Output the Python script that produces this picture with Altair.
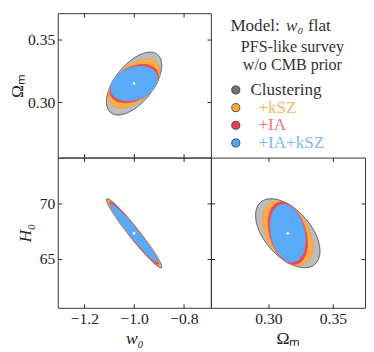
import numpy as np
import pandas as pd
import altair as alt

# ---------------- data ----------------
series = ["Clustering", "+kSZ", "+IA", "+IA+kSZ"]
fill_colors = ["#bdbdbd", "#ffab47", "#f4454f", "#5aabf7"]
edge_colors = ["#3c3c3c", "#ee9f40", "#f4454f", "#5aabf7"]
marker_colors = ["#727272", "#f7a744", "#f03f4a", "#4da4f4"]
text_colors = ["#333333", "#fbb565", "#f7737c", "#7bb9f6"]

fid_w0, fid_Om, fid_H0 = -1.0, 0.315, 67.3
# half-extent of each 2D contour along each parameter
ext_w0 = [0.111, 0.104, 0.098, 0.095]
ext_Om = [0.0250, 0.0195, 0.0152, 0.0137]
ext_H0 = [3.10, 2.88, 2.80, 2.60]
# correlation coefficients
rho_w0_Om = [0.58, 0.50, 0.36, 0.27]
rho_w0_H0 = [-0.97, -0.97, -0.97, -0.97]
rho_Om_H0 = [-0.52, -0.42, -0.32, -0.24]

w0_ticks = [-1.2, -1.0, -0.8]
Om_ticks = [0.30, 0.35]
H0_ticks = [65, 70]

header_lines = ["PFS-like survey", "w/o CMB prior"]
model_words = ["Model:", "w\u2080", "flat"]

FONT = "Liberation Serif"
INK = "#222222"


def ellipse(cx, cy, ax, ay, rho, n=240):
    t = np.linspace(0, np.pi, n)
    v = np.cos(t)
    s = np.sqrt(np.clip((1 - rho ** 2) * (1 - v ** 2), 0, None))
    return pd.DataFrame({
        "x": cx + ax * v,
        "ylo": cy + ay * (rho * v - s),
        "yhi": cy + ay * (rho * v + s),
    })


def main_axis(orient, values, fmt, title, labels, style="normal", tpad=1):
    kw = dict(orient=orient, values=values, format=fmt, domain=False, grid=False,
              ticks=True, tickSize=4, tickColor=INK, tickWidth=1, offset=-4,
              labels=labels, labelFont=FONT, labelFontSize=16, labelColor=INK,
              labelPadding=3, labelFlush=False, labelOverlap=False)
    if title:
        kw.update(title=title, titleFont=FONT, titleFontSize=18,
                  titleFontWeight="normal", titleColor=INK, titleFontStyle=style,
                  titlePadding=tpad)
    else:
        kw.update(title=None)
    return alt.Axis(**kw)


def mirror_axis(orient, values):
    return alt.Axis(orient=orient, values=values, domain=False, grid=False,
                    ticks=True, tickSize=4, tickColor=INK, tickWidth=1, offset=-4,
                    labels=False, title=None)


def panel(fx, fy, xdom, ydom, xticks, yticks, xfmt, yfmt, ext_x, ext_y, rho,
          w, h, xlab, ylab, xtitle, ytitle, xstyle, ystyle, ytpad=1):
    xs = alt.Scale(domain=xdom, nice=False, zero=False)
    ys = alt.Scale(domain=ydom, nice=False, zero=False)
    layers = []
    for i in range(len(series)):
        df = ellipse(fx, fy, ext_x[i], ext_y[i], rho[i])
        layers.append(
            alt.Chart(df).mark_area(fill=fill_colors[i], stroke=edge_colors[i],
                                    strokeWidth=0.9, opacity=1).encode(
                x=alt.X("x:Q", scale=xs, axis=None),
                y=alt.Y("ylo:Q", scale=ys, axis=None),
                y2="yhi:Q",
            )
        )
    center = pd.DataFrame({"x": [fx], "y": [fy]})
    layers.append(
        alt.Chart(center).mark_point(filled=True, color="white", size=7, opacity=1).encode(
            x=alt.X("x:Q", scale=xs,
                    axis=main_axis("bottom", xticks, xfmt, xtitle, xlab, xstyle, 4)),
            y=alt.Y("y:Q", scale=ys,
                    axis=main_axis("left", yticks, yfmt, ytitle, ylab, ystyle, ytpad)),
        )
    )
    layers.append(
        alt.Chart(center).mark_point(opacity=0).encode(
            x=alt.X("x:Q", scale=xs, axis=mirror_axis("top", xticks)),
            y=alt.Y("y:Q", scale=ys, axis=mirror_axis("right", yticks)),
        )
    )
    return alt.layer(*layers).resolve_axis(x="independent", y="independent").properties(
        width=w, height=h)


W1, W2, H1, H2 = 157, 158, 148, 154
w0_dom = [-1.307, -0.691]
Om_dom_x = [0.2553, 0.375]
Om_dom_y = [0.2561, 0.371]
H0_dom = [60.6, 74.1]

tl = panel(fid_w0, fid_Om, w0_dom, Om_dom_y, w0_ticks, Om_ticks, ".1f", ".2f",
           ext_w0, ext_Om, rho_w0_Om, W1, H1, False, True, None, "\u03a9\u2098",
           "normal", "normal", 1)
bl = panel(fid_w0, fid_H0, w0_dom, H0_dom, w0_ticks, H0_ticks, ".1f", "d",
           ext_w0, ext_H0, rho_w0_H0, W1, H2, True, True, "w\u2080", "H\u2080",
           "italic", "italic", 5)
br = panel(fid_Om, fid_H0, Om_dom_x, H0_dom, Om_ticks, H0_ticks, ".2f", "d",
           ext_Om, ext_H0, rho_Om_H0, W2, H2, True, False, "\u03a9\u2098", None,
           "normal", "normal", 1)

# ---------------- legend panel ----------------
leg_df = pd.DataFrame({"label": series, "i": list(range(len(series)))})
ys_leg = alt.Scale(domain=[0, 3], range=[78.7, 133])
fill_scale = alt.Scale(domain=series, range=marker_colors)
text_scale = alt.Scale(domain=series, range=text_colors)

markers = alt.Chart(leg_df).mark_point(shape="circle", filled=True, size=70, opacity=1,
                                       stroke="#333333", strokeWidth=0.8).encode(
    x=alt.value(25.5),
    y=alt.Y("i:Q", scale=ys_leg, axis=None),
    fill=alt.Fill("label:N", scale=fill_scale, legend=None),
)
first_text = alt.Chart(leg_df).transform_filter("datum.i == 0").mark_text(
    font=FONT, fontSize=17.5, align="left", baseline="middle").encode(
    x=alt.value(40.5),
    y=alt.Y("i:Q", scale=ys_leg, axis=None),
    text="label:N",
    color=alt.Color("label:N", scale=text_scale, legend=None),
)
other_text = alt.Chart(leg_df).transform_filter("datum.i > 0").mark_text(
    font=FONT, fontSize=17.5, align="left", baseline="middle").encode(
    x=alt.value(48.7),
    y=alt.Y("i:Q", scale=ys_leg, axis=None),
    text="label:N",
    color=alt.Color("label:N", scale=text_scale, legend=None),
)

header_layers = []
for txt, yb in zip(header_lines, [39.5, 58.5]):
    header_layers.append(
        alt.Chart(pd.DataFrame({"t": [txt]})).mark_text(
            font=FONT, fontSize=16.5, align="center", baseline="alphabetic",
            color="#333333").encode(x=alt.value(83.5), y=alt.value(yb), text="t:N")
    )
for txt, xl, st in zip(model_words, [20, 77, 99.5], ["normal", "italic", "normal"]):
    header_layers.append(
        alt.Chart(pd.DataFrame({"t": [txt]})).mark_text(
            font=FONT, fontSize=17.5, align="left", baseline="alphabetic",
            color="#333333", fontStyle=st).encode(x=alt.value(xl), y=alt.value(18), text="t:N")
    )

legend_panel = alt.layer(markers, first_text, other_text, *header_layers).properties(
    width=W2, height=H1, view=alt.ViewBackground(stroke="transparent"))

chart = alt.concat(tl, legend_panel, bl, br, columns=2, spacing=0, bounds="flush",
                   align="each").properties(
    padding={"left": 0, "top": 0, "right": 0, "bottom": 0}
).configure_view(stroke="#333333", strokeWidth=1)

chart.save("out.html", embed_options={"renderer": "svg", "actions": False})
